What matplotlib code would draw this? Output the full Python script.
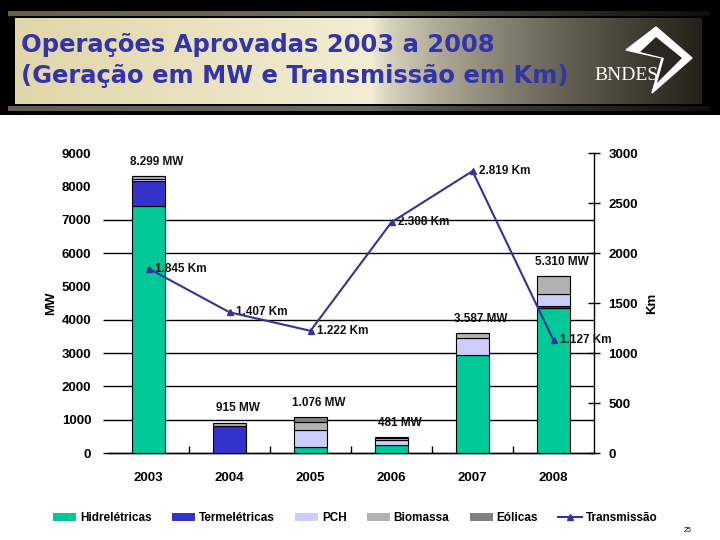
import numpy as np
import matplotlib.pyplot as plt
from matplotlib.patches import Patch, Polygon
from matplotlib.lines import Line2D

# ==================================================
#   Dados (MW por fonte e Km de transmissao)
anos = ['2003', '2004', '2005', '2006', '2007', '2008']
hidreletricas = [7420, 0, 170, 240, 2930, 4360]
termeletricas = [750, 805, 0, 0, 0, 40]
pch = [50, 0, 520, 165, 520, 360]
biomassa = [79, 110, 230, 56, 137, 550]
eolicas = [0, 0, 156, 20, 0, 0]
rotulos_mw = ['8.299 MW', '915 MW', '1.076 MW', '481 MW', '3.587 MW', '5.310 MW']
transmissao = [1845, 1407, 1222, 2308, 2819, 1127]
rotulos_km = ['1.845 Km', '1.407 Km', '1.222 Km', '2.308 Km', '2.819 Km', '1.127 Km']

cores = ['#00C896', '#3333CC', '#CCCCFF', '#B2B2B2', '#808080']
nomes = ['Hidrelétricas', 'Termelétricas', 'PCH', 'Biomassa', 'Eólicas']
cor_linha = '#333399'

plt.rcParams['font.family'] = ['Liberation Sans', 'DejaVu Sans']

fig = plt.figure(figsize=(7.2, 5.4), dpi=100)
fig.patch.set_facecolor('white')

# ==================================================
#   Cabecalho
hdr = fig.add_axes([0, 1 - 115 / 540, 1, 115 / 540])
hdr.set_xlim(0, 720)
hdr.set_ylim(115, 0)
hdr.axis('off')
hdr.add_patch(plt.Rectangle((0, 0), 720, 115, color='black'))
xx = np.linspace(0, 1, 400)
left = np.array([0.88, 0.84, 0.66])
mid = np.array([0.95, 0.93, 0.83])
dark = np.array([0.14, 0.13, 0.10])
grad = np.zeros((1, 400, 3))
for i, t in enumerate(xx):
    if t < 0.52:
        c = left + (mid - left) * (t / 0.52)
    else:
        c = mid + (dark - mid) * ((t - 0.52) / 0.48) ** 0.7
    grad[0, i] = c
hdr.imshow(grad, extent=(15, 702, 104, 19), aspect='auto', zorder=2)
stripe = grad.copy() * 0.75
hdr.imshow(stripe, extent=(8, 710, 16, 11), aspect='auto', zorder=1, alpha=0.6)
hdr.imshow(stripe, extent=(8, 710, 111, 106), aspect='auto', zorder=1, alpha=0.6)
hdr.text(21, 45, 'Operações Aprovadas 2003 a 2008', color='#3333AA', fontsize=17.5,
         fontweight='bold', family=['DejaVu Sans'], va='center', ha='left', zorder=3)
hdr.text(21, 76, '(Geração em MW e Transmissão em Km)', color='#3333AA', fontsize=17.5,
         fontweight='bold', family=['DejaVu Sans'], va='center', ha='left', zorder=3)
hdr.add_patch(Polygon([(656, 27), (692, 58), (652, 93), (662, 58), (626, 50)],
                      closed=True, facecolor='white', edgecolor='white', zorder=3))
hdr.add_patch(Polygon([(656, 37), (682, 58), (657, 83), (664, 58), (640, 52)],
                      closed=True, facecolor='#2a2720', edgecolor='none', zorder=3))
hdr.text(627, 75, 'BNDES', color='white', fontsize=14, family=['Liberation Serif'],
         va='center', ha='center', zorder=4)

# ==================================================
#   Grafico
ax = fig.add_axes([108 / 720, 87 / 540, 486 / 720, 300 / 540])
x = np.arange(len(anos))
base = np.zeros(len(anos))
series = [hidreletricas, termeletricas, pch, biomassa, eolicas]
for s, c in zip(series, cores):
    s = np.array(s, dtype=float)
    ax.bar(x, s, 0.41, bottom=base, color=c, edgecolor='black', linewidth=0.8, zorder=3)
    base += s

for v in [0, 1000, 2000, 3000, 4000, 6000, 7000]:
    ax.hlines(v, -0.56, 5.5, color='black', linewidth=1, zorder=1, clip_on=False)

for i in range(len(anos)):
    ax.annotate(rotulos_mw[i], (x[i] + 0.1, base[i]), xytext=(0, 6),
                textcoords='offset points', ha='center', va='bottom',
                fontsize=8.5, fontweight='bold', color='#111111')

ax.set_xlim(-0.5, 5.5)
ax.set_ylim(0, 9000)
ax.set_yticks(range(0, 9001, 1000))
ax.tick_params(axis='y', length=0, pad=12, labelsize=9.5)
ax.set_xticks(x)
ax.set_xticklabels(anos)
ax.set_xticks(np.arange(0.5, 5, 1), minor=True)
ax.tick_params(axis='x', which='major', length=0, pad=14, labelsize=9.5)
ax.tick_params(axis='x', which='minor', direction='in', length=5, width=1)
for lab in ax.get_xticklabels() + ax.get_yticklabels():
    lab.set_fontweight('bold')
for sp in ['left', 'top', 'right']:
    ax.spines[sp].set_visible(False)
ax.spines['bottom'].set_linewidth(1)
ax.set_ylabel('MW', fontsize=9.5, fontweight='bold', labelpad=3)

ax2 = ax.twinx()
ax2.plot(x, transmissao, color=cor_linha, marker='^', markersize=5, linewidth=1.5, zorder=5)
for i in range(len(anos)):
    ax2.annotate(rotulos_km[i], (x[i], transmissao[i]), xytext=(5, 0),
                 textcoords='offset points', ha='left', va='center',
                 fontsize=8.5, fontweight='bold', color='#111111')
ax2.set_ylim(0, 3000)
ax2.set_yticks(range(0, 3001, 500))
ax2.tick_params(axis='y', direction='inout', length=9, width=1, pad=6, labelsize=9.5)
for lab in ax2.get_yticklabels():
    lab.set_fontweight('bold')
for sp in ['left', 'top', 'bottom']:
    ax2.spines[sp].set_visible(False)
ax2.spines['right'].set_linewidth(1)
ax2.set_ylabel('Km', fontsize=9.5, fontweight='bold', labelpad=6)

# ==================================================
#   Legenda
handles = [Patch(facecolor=c, edgecolor='none', label=n) for c, n in zip(cores, nomes)]
handles.append(Line2D([0], [0], color=cor_linha, marker='^', markersize=4, linewidth=1.5,
                      label='Transmissão'))
fig.legend(handles=handles, loc='center', bbox_to_anchor=(0.493, 0.041), ncol=6,
           frameon=False, handlelength=2.0, handleheight=0.7, columnspacing=1.7,
           handletextpad=0.3, prop={'size': 8.5, 'weight': 'bold'})
fig.text(688 / 720, 1 - 530 / 540, '25', fontsize=5, ha='center', va='center')

fig.savefig('out.png', dpi=100)
